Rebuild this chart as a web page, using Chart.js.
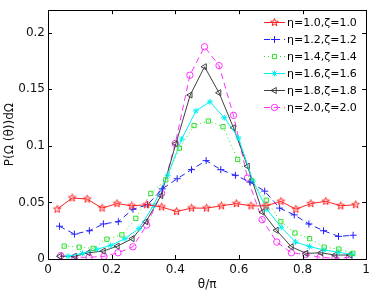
<!DOCTYPE html>
<html>
<head>
<meta charset="utf-8">
<script src="https://cdn.jsdelivr.net/npm/chart.js@4/dist/chart.umd.min.js"></script>
<style>html,body{margin:0;padding:0;background:#fff}canvas{display:block}</style>
</head>
<body>
<canvas id="chart" width="374" height="292"></canvas>
<script>
// tick values and labels
var xTicks = [0, 0.2, 0.4, 0.6, 0.8, 1];
var xTickLabels = ['0', '0.2', '0.4', '0.6', '0.8', '1'];
var yTicks = [0, 0.05, 0.1, 0.15, 0.2];
var yTickLabels = ['0', '0.05', '0.1', '0.15', '0.2'];

var seriesNames = ['\u03b7=1.0,\u03b6=1.0', '\u03b7=1.2,\u03b6=1.2', '\u03b7=1.4,\u03b6=1.4',
                   '\u03b7=1.6,\u03b6=1.6', '\u03b7=1.8,\u03b6=1.8', '\u03b7=2.0,\u03b6=2.0'];

// theta/pi positions and values
var eta10X = [0.029,0.076,0.123,0.170,0.217,0.263,0.310,0.357,0.404,0.451,0.498,0.545,0.592,0.638,0.685,0.732,0.779,0.826,0.873,0.920,0.967];
var eta10Y = [0.044,0.054,0.053,0.045,0.049,0.047,0.048,0.046,0.042,0.045,0.045,0.047,0.049,0.047,0.047,0.051,0.044,0.049,0.051,0.047,0.048];

var eta12X = [0.036,0.083,0.130,0.174,0.221,0.267,0.313,0.359,0.406,0.451,0.497,0.543,0.589,0.635,0.681,0.728,0.774,0.820,0.866,0.913,0.959];
var eta12Y = [0.029,0.022,0.025,0.031,0.033,0.044,0.048,0.062,0.071,0.079,0.087,0.079,0.074,0.068,0.060,0.045,0.039,0.031,0.025,0.020,0.021];

var eta14X = [0.051,0.098,0.142,0.185,0.232,0.276,0.323,0.370,0.413,0.459,0.504,0.550,0.596,0.640,0.686,0.732,0.776,0.822,0.868,0.914,0.958];
var eta14Y = [0.0114,0.0105,0.0094,0.0175,0.0213,0.036,0.058,0.070,0.098,0.118,0.122,0.117,0.088,0.069,0.052,0.033,0.023,0.018,0.0105,0.0088,0.005];

var eta16X = [0.063,0.108,0.152,0.197,0.242,0.286,0.331,0.376,0.420,0.465,0.509,0.554,0.599,0.644,0.688,0.733,0.778,0.822,0.867,0.912,0.956];
var eta16Y = [0.0025,0.005,0.0085,0.012,0.018,0.027,0.047,0.074,0.106,0.131,0.139,0.125,0.107,0.069,0.044,0.028,0.015,0.011,0.008,0.006,0.004];

var eta18X = [0.0375,0.084,0.127,0.174,0.218,0.265,0.308,0.355,0.402,0.447,0.492,0.5375,0.583,0.627,0.674,0.718,0.765,0.811,0.858,0.902,0.949];
var eta18Y = [0.0024,0.0024,0.0055,0.007,0.0114,0.018,0.033,0.056,0.102,0.145,0.170,0.147,0.116,0.082,0.0415,0.0254,0.0108,0.005,0.0055,0.0035,0.0035];

var eta20X = [0.040,0.084,0.129,0.176,0.220,0.267,0.310,0.357,0.400,0.446,0.492,0.5375,0.583,0.627,0.673,0.719,0.765,0.810,0.855,0.902,0.947];
var eta20Y = [0.003,0.0015,0.0015,0.0024,0.0055,0.0108,0.030,0.058,0.102,0.1625,0.1877,0.171,0.127,0.0716,0.0348,0.015,0.0055,0.004,0.0015,0.0006,0.0015];

function pairs(xs, ys) {
  return xs.map(function (x, i) { return { x: x, y: ys[i] }; });
}

// MATLAB style pentagram marker
function pentagram(color, r) {
  var c = document.createElement('canvas');
  var s = Math.ceil(r * 2 + 3);
  c.width = c.height = s;
  var g = c.getContext('2d');
  g.strokeStyle = color;
  g.lineWidth = 1;
  g.beginPath();
  for (var i = 0; i < 10; i++) {
    var a = -Math.PI / 2 + i * Math.PI / 5;
    var rr = i % 2 ? r * 0.42 : r;
    var px = s / 2 + Math.cos(a) * rr, py = s / 2 + Math.sin(a) * rr;
    if (i === 0) g.moveTo(px, py); else g.lineTo(px, py);
  }
  g.closePath();
  g.stroke();
  return c;
}

var redStar = pentagram('#ff2020', 4);

var styles = [
  { color: '#ff2020', dash: [], point: redStar, rot: 0, r: 4 },
  { color: '#2020ff', dash: [6, 4], point: 'cross', rot: 0, r: 3.5 },
  { color: '#30e030', dash: [1, 3], point: 'rect', rot: 0, r: 3 },
  { color: '#00f0f0', dash: [], point: 'star', rot: 0, r: 3 },
  { color: '#404040', dash: [], point: 'triangle', rot: -90, r: 3.5 },
  { color: '#ff30ff', dash: [6, 4], point: 'circle', rot: 0, r: 3.2 }
];

var seriesData = [pairs(eta10X, eta10Y), pairs(eta12X, eta12Y), pairs(eta14X, eta14Y),
                  pairs(eta16X, eta16Y), pairs(eta18X, eta18Y), pairs(eta20X, eta20Y)];

var datasets = seriesData.map(function (d, i) {
  var st = styles[i];
  return {
    label: seriesNames[i],
    data: d,
    borderColor: st.color,
    borderWidth: 1,
    borderDash: st.dash,
    backgroundColor: 'rgba(0,0,0,0)',
    pointStyle: st.point,
    pointRotation: st.rot,
    pointRadius: st.r,
    pointBorderWidth: 1,
    pointBorderColor: st.color,
    pointBackgroundColor: 'rgba(0,0,0,0)',
    fill: false,
    tension: 0
  };
});

// box around the axes with inward ticks on all sides
var axesBox = {
  id: 'axesBox',
  afterDraw: function (chart) {
    var ctx = chart.ctx, a = chart.chartArea;
    var xs = chart.scales.x, ys = chart.scales.y;
    ctx.save();
    ctx.strokeStyle = '#000';
    ctx.lineWidth = 1;
    ctx.strokeRect(Math.round(a.left) + 0.5, Math.round(a.top) + 0.5,
                   Math.round(a.right - a.left), Math.round(a.bottom - a.top));
    ctx.beginPath();
    xTicks.forEach(function (v) {
      var px = Math.round(xs.getPixelForValue(v)) + 0.5;
      ctx.moveTo(px, a.bottom); ctx.lineTo(px, a.bottom - 4);
      ctx.moveTo(px, a.top); ctx.lineTo(px, a.top + 4);
    });
    yTicks.forEach(function (v) {
      var py = Math.round(ys.getPixelForValue(v)) + 0.5;
      ctx.moveTo(a.left, py); ctx.lineTo(a.left + 4, py);
      ctx.moveTo(a.right, py); ctx.lineTo(a.right - 4, py);
    });
    ctx.stroke();
    ctx.restore();
  }
};

// legend with line sample and marker, like MATLAB
var lineLegend = {
  id: 'lineLegend',
  afterDraw: function (chart) {
    var ctx = chart.ctx;
    ctx.save();
    ctx.font = '11px "DejaVu Sans"';
    ctx.textBaseline = 'middle';
    seriesNames.forEach(function (name, i) {
      var st = styles[i];
      var y = 22 + i * 17;
      ctx.strokeStyle = st.color;
      ctx.lineWidth = 1;
      ctx.setLineDash(st.dash);
      ctx.beginPath();
      ctx.moveTo(264, y + 0.5);
      ctx.lineTo(285, y + 0.5);
      ctx.stroke();
      ctx.setLineDash([]);
      ctx.fillStyle = 'rgba(0,0,0,0)';
      Chart.helpers.drawPoint(ctx, { pointStyle: st.point, radius: st.r, rotation: st.rot, borderWidth: 1 }, 274.5, y + 0.5);
      ctx.fillStyle = '#000';
      ctx.fillText(name, 287, y + 1);
    });
    ctx.restore();
  }
};

var tickFont = { family: 'DejaVu Sans', size: 12 };

new Chart(document.getElementById('chart'), {
  type: 'line',
  data: { datasets: datasets },
  options: {
    responsive: false,
    animation: false,
    devicePixelRatio: 1,
    layout: { padding: { left: 0, right: 5, top: 8, bottom: 0 } },
    plugins: { legend: { display: false }, tooltip: { enabled: false } },
    scales: {
      x: {
        type: 'linear',
        min: 0,
        max: 1,
        afterBuildTicks: function (s) { s.ticks = xTicks.map(function (v) { return { value: v }; }); },
        afterFit: function (s) { s.height = 33; },
        grid: { display: false, drawTicks: false },
        border: { display: false },
        ticks: {
          padding: 4,
          color: '#111',
          font: tickFont,
          maxRotation: 0,
          callback: function (v) { return xTickLabels[xTicks.indexOf(v)]; }
        },
        title: { display: true, text: '\u03b8/\u03c0', color: '#111', font: tickFont, padding: { top: 2, bottom: 0 } }
      },
      y: {
        type: 'linear',
        min: 0,
        max: 0.22,
        afterBuildTicks: function (s) { s.ticks = yTicks.map(function (v) { return { value: v }; }); },
        afterFit: function (s) { s.width = 48; },
        grid: { display: false, drawTicks: false },
        border: { display: false },
        ticks: {
          padding: 3,
          color: '#111',
          font: tickFont,
          callback: function (v) { return yTickLabels[yTicks.indexOf(v)]; }
        },
        title: { display: true, text: 'P(\u03a9 (\u03b8))d\u03a9', color: '#111', font: tickFont, padding: { top: 3, bottom: 0 } }
      }
    }
  },
  plugins: [axesBox, lineLegend]
});
</script>
</body>
</html>
